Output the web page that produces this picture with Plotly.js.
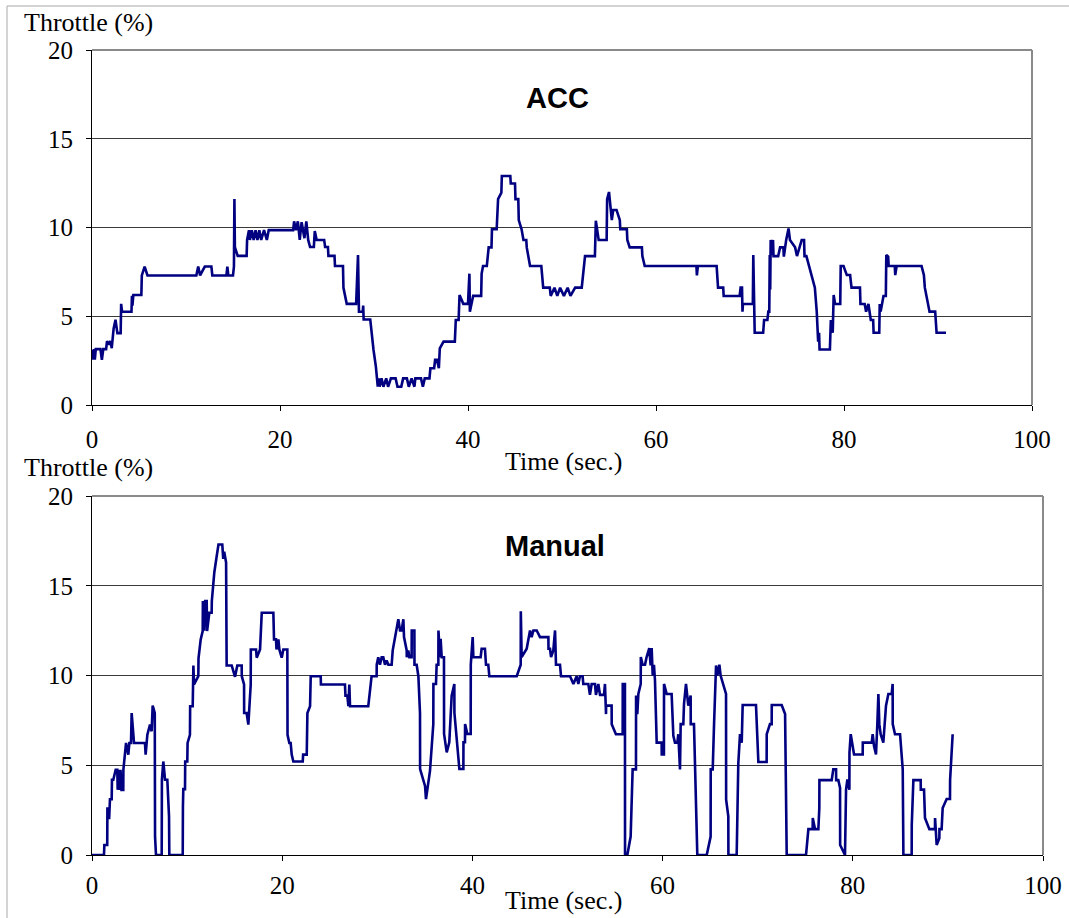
<!DOCTYPE html>
<html>
<head>
<meta charset="utf-8">
<script src="https://cdn.plot.ly/plotly-3.0.1.min.js"></script>
<style>
  html, body { margin: 0; padding: 0; background: #ffffff; }
  #chart { width: 1069px; height: 918px; }
</style>
</head>
<body>
<div id="chart"></div>
<script>
// ---------- data ----------
const xTickVals = [0, 20, 40, 60, 80, 100];
const yTickVals = [0, 5, 10, 15, 20];

const chartTitles = ["ACC", "Manual"];
const yAxisLabel = "Throttle (%)";
const xAxisLabel = "Time (sec.)";

const accTime = [
  0,0.1,0.2,0.3,0.4,0.9,1.05,1.2,1.5,1.6,
  1.8,1.95,2.1,2.3,2.5,2.7,3.05,3.1,3.2,4.2,
  4.25,4.3,4.4,5.25,5.3,5.6,5.9,11.1,11.3,11.5,
  12.0,12.7,12.8,14.3,14.4,14.5,15.0,15.1,15.15,15.2,
  15.5,16.45,16.5,16.7,16.8,17.0,17.2,17.4,17.6,17.8,
  18.0,18.3,18.6,18.8,21.4,21.5,21.7,21.9,22.1,22.3,
  22.6,22.8,23.0,23.2,23.6,23.7,23.9,24.7,24.8,25.1,
  25.15,25.8,25.85,26.7,26.75,26.95,27.1,28.1,28.3,28.4,
  28.8,28.85,28.9,29.6,29.75,29.95,30.2,30.4,30.5,30.6,
  30.8,31.0,31.3,31.5,31.8,32.3,32.5,32.9,33.1,33.5,
  33.7,34.0,34.3,34.4,35.0,35.2,35.4,35.9,36.0,36.4,
  36.5,36.7,36.9,37.0,37.4,38.6,38.7,39.0,39.1,39.5,
  40.0,40.15,40.2,40.55,41.4,41.45,41.6,42.0,42.2,42.5,
  42.55,43.05,43.2,43.55,43.6,44.5,44.55,45.0,45.05,45.35,
  45.4,45.7,45.9,46.2,46.25,46.4,46.6,47.8,48.0,48.7,
  48.8,49.2,49.5,49.8,50.2,50.6,50.9,51.4,52.1,52.45,
  53.5,53.6,53.9,54.75,54.8,55.0,55.3,55.45,55.8,56.15,
  56.2,56.9,56.95,57.2,58.5,58.55,58.8,64.3,64.35,64.45,
  66.45,66.6,67.15,67.2,68.9,69.0,69.15,69.2,69.25,70.3,
  70.35,70.5,71.4,71.5,71.85,71.95,72.05,72.1,72.15,72.2,
  72.3,72.45,72.5,73.0,73.2,73.55,73.6,73.85,74.1,74.25,
  74.8,75.0,75.3,75.5,75.75,75.8,76.0,76.55,76.9,77.1,
  77.25,77.35,77.4,78.5,78.6,78.8,78.9,79.05,79.6,79.65,
  79.95,80.3,80.65,80.8,81.7,81.75,82.2,82.35,82.6,82.85,
  83.1,83.15,83.75,83.8,83.9,84.2,84.45,84.5,84.7,84.75,
  85.4,85.45,85.6,88.25,88.5,88.6,88.8,89.1,89.7,89.85,
  90.85
];
const accThrottle = [
  3.1,2.55,3.15,2.55,3.15,3.15,2.55,3.15,3.15,3.6,
  3.4,3.6,3.2,4.3,4.8,4.05,4.05,5.7,5.25,5.25,
  6.15,5.6,6.2,6.2,7.3,7.8,7.3,7.3,7.8,7.3,
  7.8,7.8,7.3,7.3,7.8,7.3,7.3,7.8,11.6,8.9,
  8.4,8.4,9.3,9.85,9.3,9.85,9.3,9.85,9.3,9.85,
  9.3,9.85,9.3,9.85,9.85,10.35,9.85,10.35,9.3,10.3,
  9.4,10.35,9.3,8.9,8.9,9.8,9.3,9.3,8.9,8.9,
  8.4,8.4,7.83,7.83,6.6,6.15,5.7,5.7,8.45,5.25,
  5.25,5.6,4.82,4.82,4.05,3.1,2.16,1.03,1.5,1.03,
  1.5,1.03,1.5,1.03,1.5,1.5,1.03,1.03,1.5,1.5,
  1.03,1.5,1.03,1.5,1.5,1.03,1.5,1.5,2.07,2.07,
  2.54,2.54,2.07,3.19,3.57,3.57,4.79,4.79,6.2,5.7,
  5.7,7.4,5.26,6.15,6.15,7.4,7.83,7.83,8.88,8.88,
  9.9,9.9,11.6,11.96,12.9,12.9,12.48,12.48,11.6,11.6,
  10.42,9.9,9.3,9.3,8.88,8.39,7.83,7.83,6.61,6.61,
  6.15,6.61,6.15,6.61,6.15,6.61,6.15,6.61,6.61,8.39,
  8.39,10.38,9.3,9.3,11.6,12.0,10.42,10.99,10.99,10.42,
  9.9,9.9,9.3,8.88,8.88,8.39,7.83,7.83,7.3,7.83,
  7.83,6.61,6.61,6.14,6.14,6.61,6.61,5.26,5.69,5.69,
  8.45,4.07,4.07,4.79,4.79,5.26,5.26,8.45,6.5,9.3,
  8.45,9.3,8.39,8.39,8.88,8.88,8.36,9.3,9.95,9.3,
  8.88,8.39,8.88,9.3,9.3,8.39,8.39,7.32,6.61,5.26,
  3.57,4.07,3.13,3.13,4.79,4.07,6.2,5.69,5.69,7.83,
  7.83,7.32,7.32,6.61,6.61,5.69,5.69,5.26,5.69,4.79,
  4.79,4.07,4.07,5.69,5.26,6.14,6.14,8.45,8.36,7.83,
  7.83,7.32,7.83,7.83,7.32,6.61,6.14,5.26,5.26,4.07,
  4.07
];

const manualTime = [
  0,1.26,1.3,1.6,1.62,1.7,1.75,1.8,1.89,2.07,
  2.1,2.24,2.49,2.66,2.7,2.8,2.9,3.0,3.1,3.29,
  3.3,3.36,3.58,3.82,3.93,4.1,4.17,4.42,5.57,5.64,
  5.82,6.1,6.27,6.38,6.6,6.63,6.73,7.33,7.35,7.5,
  7.68,7.92,8.1,8.13,9.54,9.56,9.6,9.78,9.8,10.02,
  10.05,10.3,10.32,10.59,10.66,10.73,11.18,11.2,11.43,11.64,
  11.66,11.8,11.9,12.06,12.1,12.34,12.58,12.6,12.86,13.1,
  13.3,13.7,13.8,13.9,14.1,14.16,14.69,15.04,15.28,15.74,
  15.75,15.99,16.0,16.26,16.44,16.69,16.7,17.25,17.32,17.67,
  17.85,19.07,19.14,19.35,19.4,19.6,19.7,19.95,20.12,20.54,
  20.56,20.75,20.89,21.0,21.17,22.16,22.2,22.58,22.65,22.93,
  23.0,24.05,24.07,26.6,26.65,26.85,26.96,27.06,27.13,29.05,
  29.4,29.93,29.94,30.1,30.28,30.46,30.63,30.81,30.98,31.16,
  31.51,31.62,31.86,32.04,32.21,32.39,32.56,32.74,32.81,33.09,
  33.1,33.26,33.37,33.61,33.62,33.9,33.91,34.14,34.32,34.49,
  34.5,35.02,35.12,35.54,35.72,35.89,35.9,36.17,36.24,36.42,
  36.43,36.59,36.66,36.77,37.01,37.02,37.3,37.57,37.82,38.1,
  38.11,38.35,38.63,39.05,39.06,39.22,39.23,39.47,39.82,39.83,
  40.03,40.1,40.87,40.97,41.32,41.43,41.67,41.78,44.66,45.08,
  45.09,45.18,45.71,46.06,46.23,46.41,46.76,47.11,47.99,48.0,
  48.16,48.27,48.51,48.69,48.79,49.21,49.32,50.27,50.62,50.96,
  51.14,51.31,51.59,51.66,52.19,52.36,52.54,52.89,52.99,53.24,
  53.42,53.84,53.94,54.05,54.06,54.64,54.65,55.09,55.8,55.81,
  56.04,56.05,56.29,56.64,56.85,57.2,57.21,57.34,57.45,57.7,
  57.71,57.9,58.15,58.32,58.6,58.74,58.85,58.96,59.09,59.2,
  59.38,59.9,59.91,60.14,60.15,60.43,60.95,61.13,61.3,61.55,
  61.65,61.83,61.9,62.18,62.25,62.46,62.7,62.95,62.96,63.3,
  63.65,64.64,65.05,65.06,65.27,65.41,65.62,65.76,65.97,66.1,
  66.67,66.68,66.91,66.92,67.79,67.96,68.14,68.32,68.42,69.82,
  70.07,70.94,70.95,71.29,71.47,71.48,72.52,72.88,73.05,75.08,
  75.33,75.78,75.79,76.03,76.38,76.48,76.49,77.78,77.95,78.24,
  78.25,78.48,78.66,78.67,79.18,79.29,79.43,79.64,79.65,79.78,
  80.13,81.04,81.05,81.99,82.09,82.23,82.44,82.58,82.69,82.79,
  82.93,83.21,83.49,83.74,84.09,84.19,84.2,84.44,84.97,85.25,
  85.32,86.19,86.2,86.37,87.14,87.15,87.49,87.59,88.05,88.64,
  88.65,88.82,89.1,89.11,89.34,89.45,89.87,90.22,90.23,90.5
];
const manualThrottle = [
  0,0,0.56,0.56,2.66,1.99,2.66,1.99,3.11,3.11,
  4.19,4.19,4.75,4.75,3.63,4.75,3.63,4.75,3.63,3.63,
  4.75,5.12,6.24,5.59,6.24,6.24,7.91,6.24,6.24,5.59,
  6.7,7.26,6.89,8.32,7.91,1.02,0,0,4.19,5.21,
  4.19,4.19,2.14,0,0,2.66,3.67,3.67,5.21,5.21,
  6.24,6.7,8.29,8.29,10.56,9.5,9.96,10.95,12.01,12.48,
  14.15,12.5,14.15,14.15,12.48,13.5,13.5,14.15,15.74,16.6,
  17.3,17.3,16.5,16.9,16.3,10.56,10.56,9.93,10.56,10.56,
  9.96,9.5,7.91,7.91,7.26,9.5,11.45,11.45,10.99,11.45,
  13.5,13.5,12.01,12.01,11.45,12.01,11.45,10.99,11.45,11.45,
  6.7,6.24,6.24,5.59,5.21,5.21,5.59,5.59,7.91,8.29,
  9.96,9.96,9.5,9.5,8.88,8.88,8.29,9.5,8.29,8.29,
  9.96,9.96,10.6,11.02,10.6,11.02,11.02,10.6,10.84,10.6,
  10.6,11.4,12.14,12.51,13.13,12.51,12.51,13.13,12.14,11.4,
  11.02,11.4,11.02,11.02,12.51,12.51,10.6,10.6,9.96,7.91,
  4.79,3.85,3.11,4.69,6.28,7.3,9.53,9.53,10.6,10.6,
  12.51,11.02,12.05,11.02,11.02,6.74,5.72,6.28,8.88,9.53,
  7.91,6.65,4.79,4.79,6.28,6.28,7.3,6.74,6.74,10.6,
  12.14,11.02,11.02,11.49,11.49,10.6,10.6,9.96,9.96,10.6,
  13.58,11.02,11.49,12.51,12.14,12.51,12.51,12.14,12.14,11.49,
  11.49,11.02,11.4,12.51,10.6,10.6,9.96,9.96,9.53,9.96,
  9.53,9.96,9.96,9.53,9.53,8.92,9.53,9.53,8.92,9.53,
  8.92,8.92,9.53,7.85,8.32,8.32,7.29,6.73,6.73,9.53,
  9.53,0,0,1.03,4.77,4.77,8.88,7.85,8.97,9.53,
  11.03,10.6,10.6,11.03,11.53,10.56,11.53,10.0,10.6,9.72,
  6.26,6.26,5.6,5.6,9.53,8.97,8.97,6.64,6.26,6.26,
  6.73,4.77,7.29,7.29,8.41,9.53,8.32,8.88,7.29,7.29,
  0,0,1.03,4.77,4.77,7.29,10.56,10.0,10.6,10.0,
  8.97,3.08,2.15,0,0,5.1,6.73,6.26,8.36,8.36,
  5.18,5.18,6.73,7.29,7.29,8.36,8.36,7.85,0,0,
  1.44,1.44,2.06,1.44,1.44,2.62,4.17,4.17,4.77,4.77,
  4.17,4.17,3.74,0.56,0,3.64,4.21,3.64,5.7,6.73,
  5.6,5.6,6.26,6.26,6.73,6.07,5.6,7.29,8.97,7.29,
  6.73,6.26,8.32,8.97,8.97,9.53,7.29,6.73,6.73,4.77,
  0,0,1.68,4.17,4.17,3.64,3.64,2.06,1.44,1.44,
  2.06,0.56,0.93,1.44,1.44,2.62,3.12,3.12,4.17,6.73
];

// ---------- figure ----------
const W = 1069, H = 918;
const px = v => v / W;            // pixel -> paper x
const py = v => 1 - v / H;        // pixel (from top) -> paper y

const lineStyle = { color: '#000080', width: 2.6 };
const traces = [
  { x: accTime, y: accThrottle, xaxis: 'x', yaxis: 'y', type: 'scatter', mode: 'lines',
    line: lineStyle, hoverinfo: 'skip', showlegend: false },
  { x: manualTime, y: manualThrottle, xaxis: 'x2', yaxis: 'y2', type: 'scatter', mode: 'lines',
    line: lineStyle, hoverinfo: 'skip', showlegend: false }
];

const serif = 'Liberation Serif, Times New Roman, serif';
const tickFont = { family: serif, size: 25, color: '#000000' };

function xAxis(domain, anchor, standoff) {
  return {
    domain: domain, anchor: anchor, range: [0, 100], tickvals: xTickVals,
    showgrid: false, zeroline: false, showline: true, linecolor: '#000000', linewidth: 1,
    ticks: 'outside', ticklen: 5, tickcolor: '#000000', tickwidth: 1,
    tickfont: tickFont, ticklabelstandoff: standoff, fixedrange: true
  };
}
function yAxis(domain, anchor) {
  return {
    domain: domain, anchor: anchor, range: [0, 20], tickvals: yTickVals,
    showgrid: true, gridcolor: '#3a3a3a', gridwidth: 1,
    zeroline: false, showline: true, linecolor: '#000000', linewidth: 1,
    ticks: 'outside', ticklen: 5, tickcolor: '#000000', tickwidth: 1,
    tickfont: tickFont, ticklabelstandoff: 8, fixedrange: true
  };
}

const border = (xr, yr) => ([
  { type: 'line', xref: xr + ' domain', yref: yr + ' domain', x0: 0, x1: 1, y0: 1, y1: 1,
    line: { color: '#8a8a8a', width: 2 }, layer: 'above' },
  { type: 'line', xref: xr + ' domain', yref: yr + ' domain', x0: 1, x1: 1, y0: 0, y1: 1,
    line: { color: '#8a8a8a', width: 2 }, layer: 'above' }
]);

const layout = {
  width: W, height: H,
  margin: { l: 0, r: 0, t: 0, b: 0, pad: 0 },
  paper_bgcolor: '#ffffff', plot_bgcolor: '#ffffff',
  showlegend: false,
  xaxis: xAxis([px(92), px(1032)], 'y', 7),
  yaxis: yAxis([py(405), py(50)], 'x'),
  xaxis2: xAxis([px(92), px(1043)], 'y2', 3),
  yaxis2: yAxis([py(855), py(496)], 'x2'),
  shapes: [
    ...border('x', 'y'),
    ...border('x2', 'y2'),
    { type: 'line', xref: 'paper', yref: 'paper', x0: px(7), x1: 1, y0: py(6), y1: py(6),
      line: { color: '#a8a8a8', width: 1 } },
    { type: 'line', xref: 'paper', yref: 'paper', x0: px(7), x1: px(7), y0: 0, y1: py(6),
      line: { color: '#a8a8a8', width: 1 } }
  ],
  annotations: [
    { text: yAxisLabel, xref: 'paper', yref: 'paper', x: px(22), y: py(23),
      xanchor: 'left', yanchor: 'middle', showarrow: false,
      font: { family: serif, size: 26, color: '#000000' } },
    { text: yAxisLabel, xref: 'paper', yref: 'paper', x: px(22), y: py(468),
      xanchor: 'left', yanchor: 'middle', showarrow: false,
      font: { family: serif, size: 26, color: '#000000' } },
    { text: xAxisLabel, xref: 'paper', yref: 'paper', x: px(563), y: py(461),
      xanchor: 'center', yanchor: 'middle', showarrow: false,
      font: { family: serif, size: 26, color: '#000000' } },
    { text: xAxisLabel, xref: 'paper', yref: 'paper', x: px(563), y: py(900),
      xanchor: 'center', yanchor: 'middle', showarrow: false,
      font: { family: serif, size: 26, color: '#000000' } },
    { text: '<b>' + chartTitles[0] + '</b>', xref: 'paper', yref: 'paper', x: px(557), y: py(98),
      xanchor: 'center', yanchor: 'middle', showarrow: false,
      font: { family: 'Liberation Sans, Arial, sans-serif', size: 29, color: '#000000' } },
    { text: '<b>' + chartTitles[1] + '</b>', xref: 'paper', yref: 'paper', x: px(555), y: py(546),
      xanchor: 'center', yanchor: 'middle', showarrow: false,
      font: { family: 'Liberation Sans, Arial, sans-serif', size: 29, color: '#000000' } }
  ]
};

Plotly.newPlot('chart', traces, layout, { staticPlot: true, displayModeBar: false });
</script>
</body>
</html>
